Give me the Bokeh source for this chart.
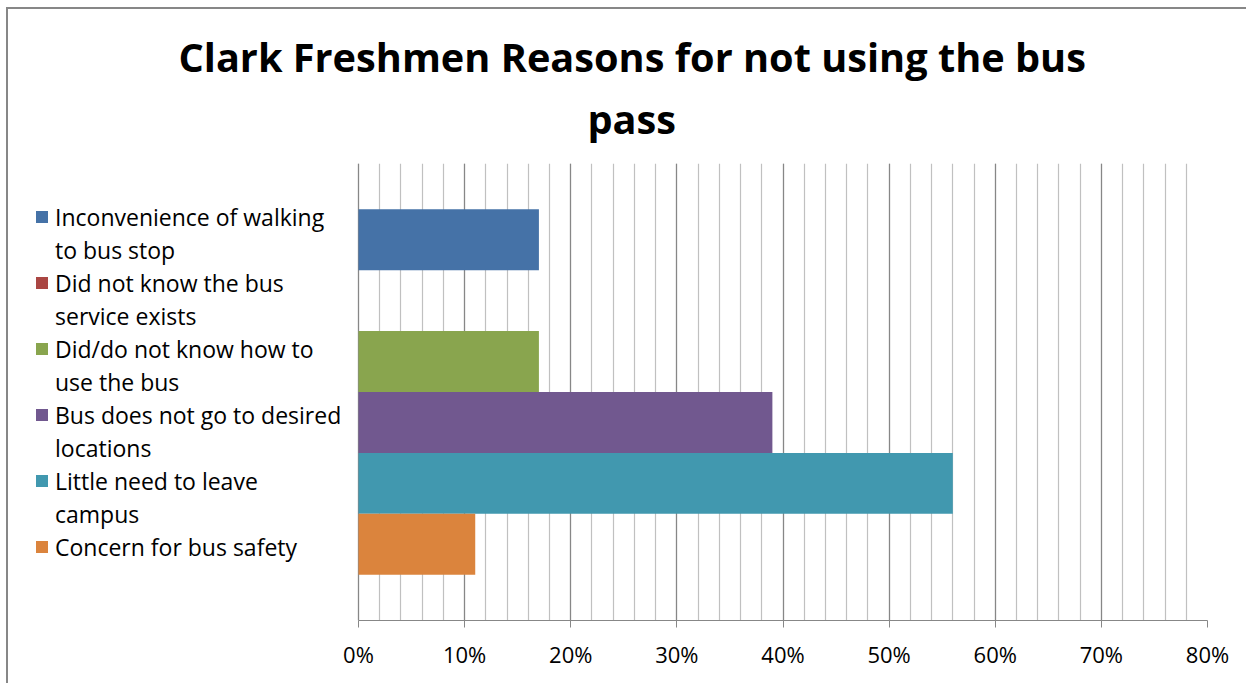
from bokeh.plotting import figure
from bokeh.models import Legend, LegendItem, Range1d, FixedTicker, NumeralTickFormatter, Title
from bokeh.embed import file_html
from bokeh.resources import INLINE

title_lines = ["Clark Freshmen Reasons for not using the bus", "pass"]
reasons = [
    "Inconvenience of walking\nto bus stop",
    "Did not know the bus\nservice exists",
    "Did/do not know how to\nuse the bus",
    "Bus does not go to desired\nlocations",
    "Little need to leave\ncampus",
    "Concern for bus safety",
]
shares = [0.17, 0.0, 0.17, 0.39, 0.56, 0.11]
colors = ["#4572A7", "#AA4643", "#89A54E", "#71588F", "#4198AF", "#DB843D"]
major_ticks = [0.0, 0.1, 0.2, 0.3, 0.4, 0.5, 0.6, 0.7, 0.8]
minor_ticks = [i / 50 for i in range(41)]

FONT = "Open Sans"

# layout (pixels): frame spans from FRAME_L to 1207; value 0 sits at x=358
FRAME_L, ZERO_X, RIGHT_X = 18, 358, 1207
x_max = 0.8
x_min = -x_max * (ZERO_X - FRAME_L) / (RIGHT_X - ZERO_X)

p = figure(width=1240, height=676,
           x_range=Range1d(x_min, x_max), y_range=Range1d(0, 7.5),
           output_backend="svg", toolbar_location=None, y_axis_location=None,
           min_border_left=FRAME_L - 8, min_border_right=41,
           min_border_top=154, min_border_bottom=65,
           margin=(7, 0, 0, 6))
p.styles = {"border-left": "2px solid #878787", "border-top": "2px solid #878787"}
p.outline_line_color = None
p.background_fill_color = "white"
p.border_fill_color = "white"

def style_title(t, offset, standoff):
    t.text_font = FONT
    t.text_font_style = "bold"
    t.text_font_size = "39.7px"
    t.text_color = "black"
    t.align = "left"
    t.offset = offset
    t.standoff = standoff

p.title.text = title_lines[0]
style_title(p.title, 160, -22)
t2 = Title(text=title_lines[1])
style_title(t2, 569, 35)
p.add_layout(t2, "above")

n = len(reasons)
blank = p.hbar(y=[], left=[], right=[], height=1, fill_alpha=0, line_alpha=0)
items = []
for i in range(n):
    yc = n + 0.25 - i
    r = p.hbar(y=[yc], left=[0], right=[shares[i]], height=1,
               fill_color=colors[i], line_color=None)
    parts = reasons[i].split("\n")
    items.append(LegendItem(label=parts[0], renderers=[r]))
    for extra in parts[1:]:
        items.append(LegendItem(label=extra, renderers=[blank]))

legend = Legend(items=items, location=(34 - FRAME_L, 57), padding=0, margin=0,
                spacing=0, glyph_width=15, glyph_height=15, label_standoff=6,
                label_height=33,
                label_text_font=FONT, label_text_font_size="23px",
                label_text_color="black",
                border_line_color=None, background_fill_alpha=0)
p.add_layout(legend)

p.xaxis.bounds = (0, x_max)
p.xaxis.ticker = FixedTicker(ticks=major_ticks, minor_ticks=minor_ticks)
p.xaxis.formatter = NumeralTickFormatter(format="0%")
p.xaxis.axis_line_color = "#878787"
p.xaxis.major_tick_line_color = "#878787"
p.xaxis.major_tick_in = 0
p.xaxis.major_tick_out = 7
p.xaxis.minor_tick_line_color = None
p.xaxis.major_label_text_font = FONT
p.xaxis.major_label_text_font_size = "22px"
p.xaxis.major_label_text_color = "black"
p.xaxis.major_label_standoff = 11

p.xgrid.grid_line_color = "#878787"
p.xgrid.grid_line_width = 1.2
p.xgrid.minor_grid_line_color = "#c0c0c0"
p.xgrid.minor_grid_line_width = 1.2
p.ygrid.grid_line_color = None

open("out.html", "w").write(file_html(p, INLINE))
